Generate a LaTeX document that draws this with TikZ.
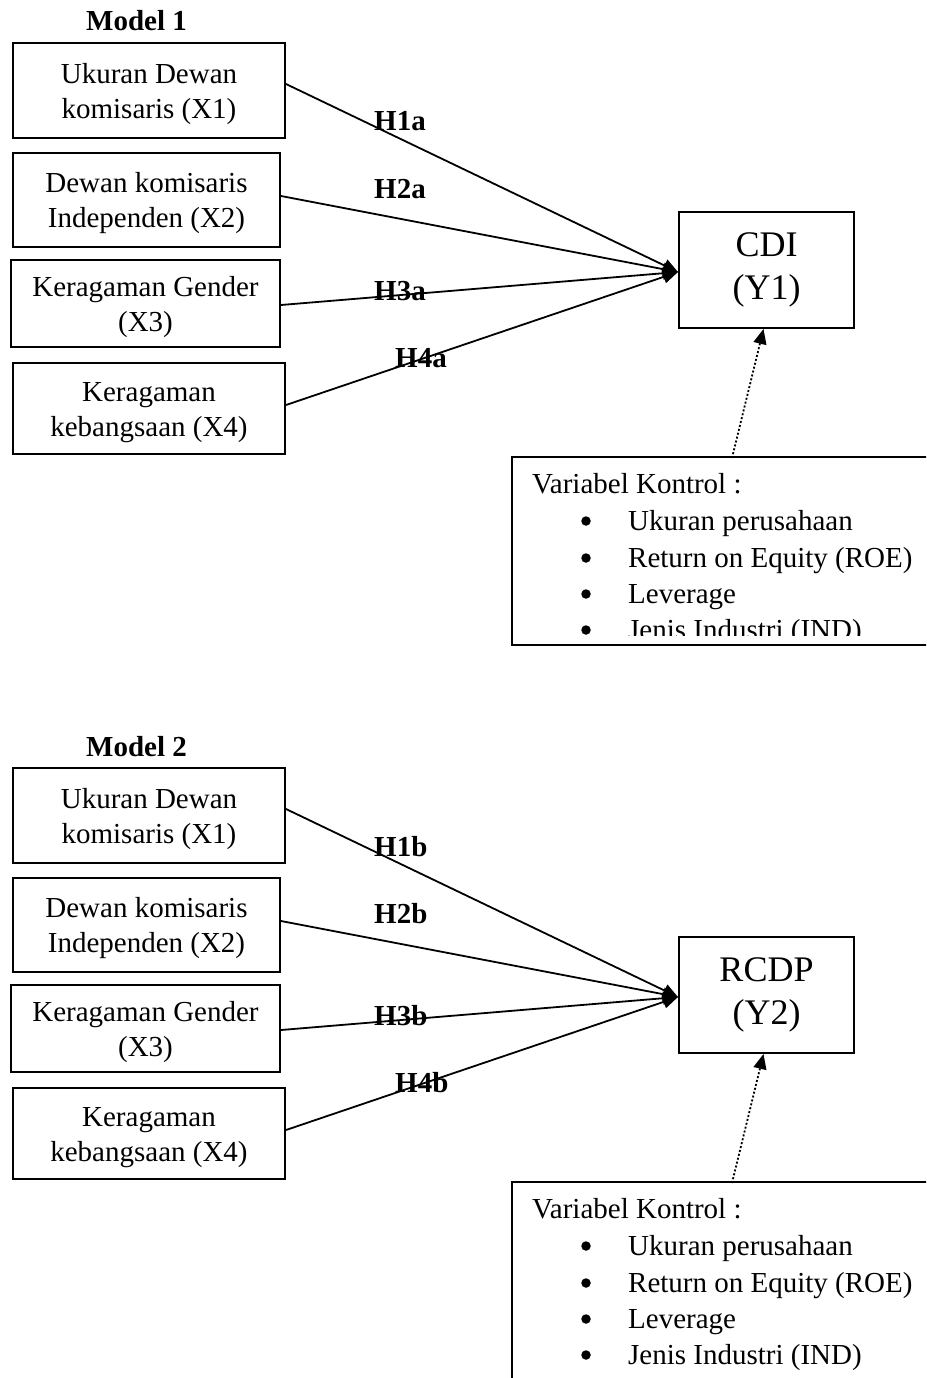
\documentclass[tikz,border=0pt]{standalone}
\usepackage{fontspec}
\setmainfont{Liberation Serif}
\usetikzlibrary{arrows.meta}
\newcommand{\tstrut}{\rule{0pt}{27pt}}
\tikzset{
  box/.style={draw, line width=2pt, inner sep=0pt, align=center, font=\fontsize{29}{35}\selectfont},
  ybox/.style={draw, line width=2pt, inner sep=0pt, align=center, font=\fontsize{36}{43}\selectfont},
  hyp/.style={font=\bfseries\fontsize{29}{35}\selectfont, inner sep=0pt, anchor=base west},
  ctext/.style={font=\fontsize{29}{35}\selectfont, inner sep=0pt, anchor=base west},
  bul/.style={circle, fill=black, inner sep=0pt, minimum size=9.5pt},
  conn/.style={line width=1.8pt, -{Triangle[length=15pt,width=13pt]}},
  ctrlarrow/.style={line width=1.8pt, dash pattern=on 2pt off 2pt, -{Triangle[length=15pt,width=13pt]}},
  ctrlbox/.style={draw, line width=2pt, inner sep=0pt, anchor=north west, minimum width=440pt},
}
\begin{document}
\begin{tikzpicture}[x=1pt,y=-1pt]
\clip (0,0) rectangle (926,1378);
\fill[white] (0,0) rectangle (926,1378);
\foreach \m/\dy/\Yn/\Ys/\s/\ch/\cl in {1/0/CDI/Y1/a/188pt/179, 2/725/RCDP/Y2/b/300pt/300}{
  \begin{scope}[shift={(0,\dy)}]
    \node[hyp] (title\m) at (86,31) {Model \m};
    \node[box, minimum width=272pt, minimum height=95pt] (xa\m) at (149,90.5) {\tstrut Ukuran Dewan\\komisaris (X1)};
    \node[box, minimum width=267pt, minimum height=94pt] (xb\m) at (146.5,200) {\tstrut Dewan komisaris\\Independen (X2)};
    \node[box, minimum width=269pt, minimum height=87pt] (xc\m) at (145.5,303.5) {\tstrut Keragaman Gender\\(X3)};
    \node[box, minimum width=272pt, minimum height=91pt] (xd\m) at (149,408.5) {\tstrut Keragaman\\kebangsaan (X4)};
    \node[ybox, minimum width=175pt, minimum height=116pt] (y\m) at (766.5,270) {\Yn\\(\Ys)};
    \draw[conn] ([yshift=6.5pt]xa\m.east) -- ([yshift=-2pt]y\m.west);
    \draw[conn] ([yshift=4pt]xb\m.east) -- ([yshift=-2pt]y\m.west);
    \draw[conn] ([yshift=-1.5pt]xc\m.east) -- ([yshift=-2pt]y\m.west);
    \draw[conn] ([yshift=3.5pt]xd\m.east) -- ([yshift=-2pt]y\m.west);
    \node[hyp] (h1\m) at (374,131) {H1\s};
    \node[hyp] (h2\m) at (374,198) {H2\s};
    \node[hyp] (h3\m) at (374,300) {H3\s};
    \node[hyp] (h4\m) at (395,367) {H4\s};
    \begin{scope}
      \clip (505,456) rectangle (926,{456+\cl});
      \node[ctext] (cv\m) at (532,493) {Variabel Kontrol :};
      \node[bul] (b1\m) at (586,521) {};
      \node[ctext] (c1\m) at (628,530) {Ukuran perusahaan};
      \node[bul] (b2\m) at (586,558) {};
      \node[ctext] (c2\m) at (628,567) {Return on Equity (ROE)};
      \node[bul] (b3\m) at (586,594) {};
      \node[ctext] (c3\m) at (628,603) {Leverage};
      \node[bul] (b4\m) at (586,630) {};
      \node[ctext] (c4\m) at (628,639) {Jenis Industri (IND)};
    \end{scope}
    \node[ctrlbox, minimum height=\ch] (ctrl\m) at (511,456) {};
    \coordinate (cs\m) at (732,458);
    \draw[ctrlarrow] (cs\m) -- ([xshift=-3pt]y\m.south);
  \end{scope}
}
\end{tikzpicture}
\end{document}
